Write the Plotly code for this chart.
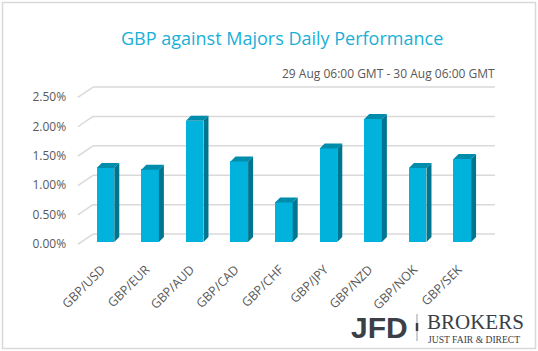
import plotly.graph_objects as go

categories = ["GBP/USD", "GBP/EUR", "GBP/AUD", "GBP/CAD", "GBP/CHF",
              "GBP/JPY", "GBP/NZD", "GBP/NOK", "GBP/SEK"]
values = [1.26, 1.23, 2.06, 1.37, 0.67, 1.59, 2.09, 1.26, 1.41]
tick_vals = [0.0, 0.5, 1.0, 1.5, 2.0, 2.5]
tick_text = ["0.00%", "0.50%", "1.00%", "1.50%", "2.00%", "2.50%"]

W, H = 538, 351
FRONT = "#00B2DC"
SIDE = "#00758F"
TOP = "#008CAB"
GRID = "#D9D9D9"
TXT = "#595959"

idx = list(range(len(categories)))
hw = 0.197       # half width of bar front (data units)
dx = 0.112       # depth offset x
dy = 0.085       # depth offset y
wall_dy = 0.135  # back wall offset
front_dy = -0.04 # front edge offset

fig = go.Figure()

shapes = []
for t in tick_vals:
    shapes.append(dict(type="line", xref="x", yref="y", x0=-0.28, x1=8.73,
                       y0=t + wall_dy, y1=t + wall_dy, layer="below",
                       line=dict(color=GRID, width=1.5)))
    shapes.append(dict(type="line", xref="x", yref="y", x0=-0.62, x1=-0.28,
                       y0=t + front_dy, y1=t + wall_dy, layer="below",
                       line=dict(color=GRID, width=1.5)))

shapes.append(dict(type="rect", xref="paper", yref="paper",
                   x0=2.5 / W, x1=535.5 / W, y0=1 - 348.5 / H, y1=1 - 2.5 / H,
                   line=dict(color=GRID, width=1.5), fillcolor="rgba(0,0,0,0)"))
shapes.append(dict(type="line", xref="paper", yref="paper",
                   x0=417 / W, x1=417 / W, y0=1 - 341 / H, y1=1 - 314 / H,
                   line=dict(color="#9a9ea4", width=1)))
shapes.append(dict(type="line", xref="paper", yref="paper",
                   x0=417 / W, x1=417 / W, y0=1 - 331 / H, y1=1 - 323 / H,
                   line=dict(color="#3b4048", width=2.5)))

fig.add_trace(go.Bar(x=idx, y=values, width=2 * hw, marker=dict(color=FRONT, line=dict(width=0)),
                     showlegend=False, hoverinfo="skip"))

sx, sy = [], []
for c, v in zip(idx, values):
    sx += [c + hw, c + hw + dx, c + hw + dx, c + hw, c + hw, None]
    sy += [0, dy, v + dy, v, 0, None]
fig.add_trace(go.Scatter(x=sx, y=sy, mode="lines", fill="toself", fillcolor=SIDE,
                         line=dict(width=0, color=SIDE), showlegend=False, hoverinfo="skip"))

tx, ty = [], []
for c, v in zip(idx, values):
    tx += [c - hw, c + hw, c + hw + dx, c - hw + dx, c - hw, None]
    ty += [v, v, v + dy, v + dy, v, None]
fig.add_trace(go.Scatter(x=tx, y=ty, mode="lines", fill="toself", fillcolor=TOP,
                         line=dict(width=0, color=TOP), showlegend=False, hoverinfo="skip"))

x_lo, x_hi = -0.75, 8.85
px0 = 83.2 + (x_lo + 0.5) * 44.6
px1 = 83.2 + (x_hi + 0.5) * 44.6
y_lo, y_hi = -0.15, 2.75
zero_px, per = 242.0, 58.8
py_top = zero_px - y_hi * per
py_bot = zero_px - y_lo * per

annotations = [
    dict(text="GBP against Majors Daily Performance", x=282 / W, y=1 - 38 / H,
         xref="paper", yref="paper", showarrow=False, xanchor="center", yanchor="middle",
         font=dict(family="Open Sans", size=18, color="#1AAFD6")),
    dict(text="29 Aug 06:00 GMT - 30 Aug 06:00 GMT", x=497 / W, y=1 - 73 / H,
         xref="paper", yref="paper", showarrow=False, xanchor="right", yanchor="middle",
         font=dict(family="Open Sans", size=12, color=TXT)),
    dict(text="<b>JFD</b>", x=410 / W, y=1 - 327 / H,
         xref="paper", yref="paper", showarrow=False, xanchor="right", yanchor="middle",
         font=dict(family="Liberation Sans", size=30, color="#3b4048")),
    dict(text="BROKERS", x=425 / W, y=1 - 322 / H,
         xref="paper", yref="paper", showarrow=False, xanchor="left", yanchor="middle",
         font=dict(family="Liberation Serif", size=21, color="#3b4048")),
    dict(text="JUST FAIR &amp; DIRECT", x=426 / W, y=1 - 339 / H,
         xref="paper", yref="paper", showarrow=False, xanchor="left", yanchor="middle",
         font=dict(family="Liberation Serif", size=9.6, color="#3b4048")),
]

fig.update_layout(
    width=W, height=H,
    margin=dict(l=0, r=0, t=0, b=0, autoexpand=False),
    paper_bgcolor="white", plot_bgcolor="rgba(0,0,0,0)",
    bargap=0,
    shapes=shapes,
    annotations=annotations,
    xaxis=dict(domain=[px0 / W, px1 / W], range=[x_lo, x_hi], automargin=False,
               tickmode="array", tickvals=idx, ticktext=categories, tickangle=-45,
               showgrid=False, zeroline=False, showline=False, ticks="",
               ticklabelshift=-4, ticklabelstandoff=8,
               tickfont=dict(family="Open Sans", size=12.5, color=TXT), fixedrange=True),
    yaxis=dict(domain=[1 - py_bot / H, 1 - py_top / H], range=[y_lo, y_hi], automargin=False,
               tickmode="array", tickvals=tick_vals, ticktext=tick_text,
               showgrid=False, zeroline=False, showline=False, ticks="",
               ticklabelstandoff=5, ticklabelshift=2,
               tickfont=dict(family="Open Sans", size=12, color=TXT), fixedrange=True),
)

fig.write_html("out.html")
